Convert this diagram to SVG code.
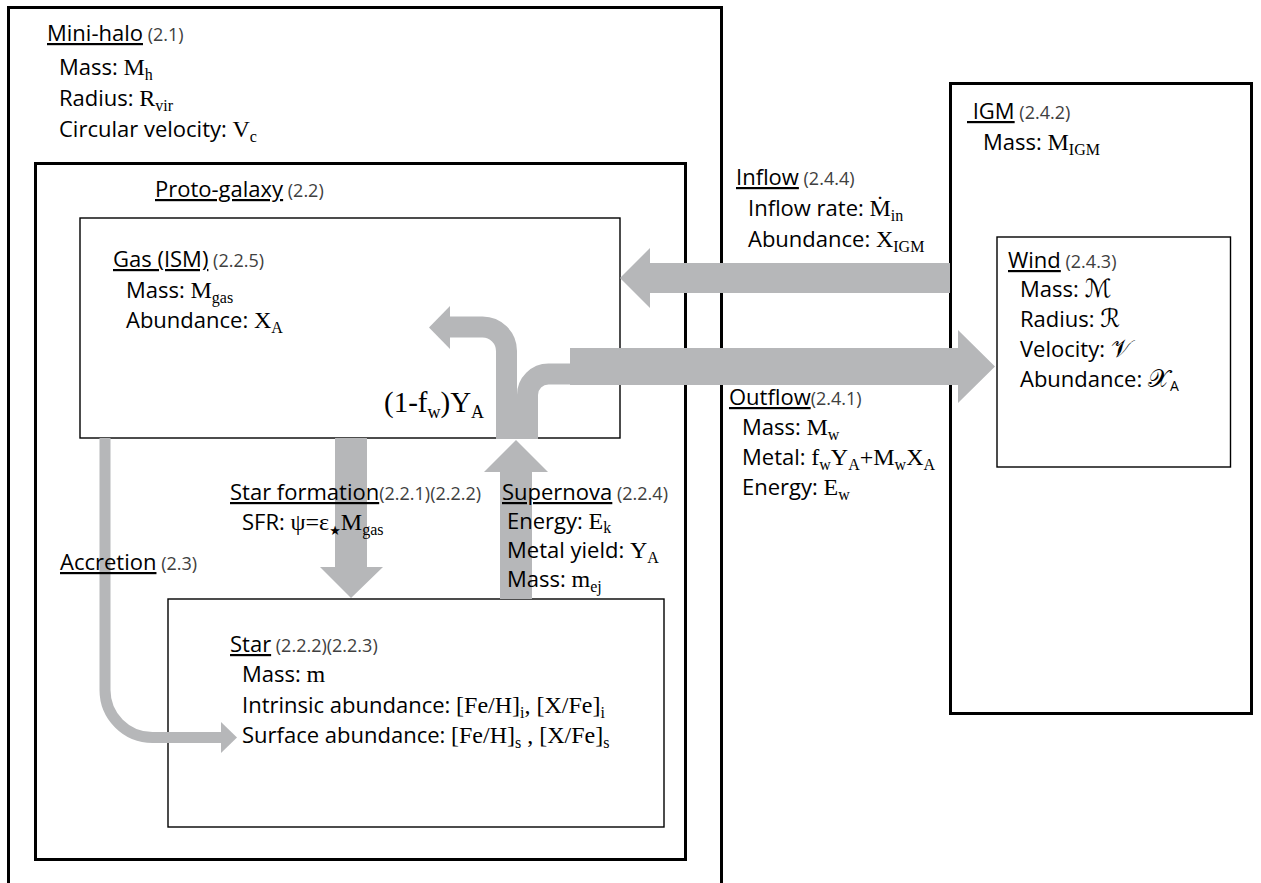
<svg xmlns="http://www.w3.org/2000/svg" width="1261" height="883" viewBox="0 0 1261 883">
<style>
.bx{fill:none;stroke:#000}
.thick{stroke-width:3}
.thin{stroke-width:1.4}
text{font-family:"Open Sans","Liberation Sans",sans-serif;font-size:22px;fill:#000}
.u{text-decoration:underline}
.n{font-size:18px;fill:#404040}
.v{font-family:"Liberation Serif","Times New Roman",serif;font-size:24px}
.sb{font-family:"Liberation Serif","Times New Roman",serif;font-size:16px}
.big{font-family:"Liberation Serif","Times New Roman",serif;font-size:29px}
.bsb{font-size:18px}
.sc{font-family:"DejaVu Serif","DejaVu Sans",serif;font-size:25px}
.arr{fill:#b6b7b9}
.arrs{fill:none;stroke:#b6b7b9}
</style>
<rect width="1261" height="883" fill="#fff"/>
<g id="mini-halo">
<rect class="bx thick" x="8.5" y="7.5" width="713" height="900"/>
<text x="47" y="41"><tspan class="u">Mini-halo</tspan><tspan class="n"> (2.1)</tspan></text>
<text x="59" y="75">Mass: <tspan class="v">M</tspan><tspan class="sb" dy="5">h</tspan></text>
<text x="59" y="106">Radius: <tspan class="v">R</tspan><tspan class="sb" dy="5">vir</tspan></text>
<text x="59" y="137">Circular velocity: <tspan class="v">V</tspan><tspan class="sb" dy="5">c</tspan></text>
</g>
<g id="proto-galaxy">
<rect class="bx thick" x="35.5" y="163.5" width="650" height="696"/>
<text x="155" y="197"><tspan class="u">Proto-galaxy</tspan><tspan class="n"> (2.2)</tspan></text>
</g>
<g id="gas">
<rect class="bx thin" x="80" y="218" width="540" height="220"/>
<text x="113" y="267"><tspan class="u">Gas (ISM)</tspan><tspan class="n"> (2.2.5)</tspan></text>
<text x="126" y="298">Mass: <tspan class="v">M</tspan><tspan class="sb" dy="5">gas</tspan></text>
<text x="126" y="328">Abundance: <tspan class="v">X</tspan><tspan class="sb" dy="5">A</tspan></text>
</g>
<g id="star">
<rect class="bx thin" x="168" y="599" width="496" height="228"/>
<text x="230" y="652"><tspan class="u">Star</tspan><tspan class="n"> (2.2.2)(2.2.3)</tspan></text>
<text x="242" y="682">Mass: <tspan class="v">m</tspan></text>
<text x="242" y="713">Intrinsic abundance: <tspan class="v">[Fe/H]</tspan><tspan class="sb" dy="5">i</tspan><tspan class="v" dy="-5">, [X/Fe]</tspan><tspan class="sb" dy="5">i</tspan></text>
<text x="242" y="743">Surface abundance: <tspan class="v">[Fe/H]</tspan><tspan class="sb" dy="5">s</tspan><tspan class="v" dy="-5"> , [X/Fe]</tspan><tspan class="sb" dy="5">s</tspan></text>
</g>
<g id="igm">
<rect class="bx thick" x="950.5" y="83.5" width="301" height="630"/>
<text x="967" y="119"><tspan class="u">&#160;IGM</tspan><tspan class="n"> (2.4.2)</tspan></text>
<text x="983" y="150">Mass: <tspan class="v">M</tspan><tspan class="sb" dy="5">IGM</tspan></text>
</g>
<g id="wind">
<rect class="bx thin" x="997" y="237" width="233.5" height="230"/>
<text x="1008" y="268"><tspan class="u">Wind</tspan><tspan class="n"> (2.4.3)</tspan></text>
<text x="1020" y="297">Mass: <tspan class="sc">ℳ</tspan></text>
<text x="1020" y="327">Radius: <tspan class="sc">ℛ</tspan></text>
<text x="1020" y="357">Velocity: <tspan class="sc">𝒱</tspan></text>
<text x="1020" y="387">Abundance: <tspan class="sc">𝒳</tspan><tspan dy="4" style="font-size:14px">A</tspan></text>
</g>
<g id="connectors">
<polygon id="inflow" class="arr" points="950,263 650,263 650,248 620,278 650,308 650,293 950,293"/>
<polygon id="outflow" class="arr" points="570,348 958,348 958,330 995,366.5 958,403 958,385 570,385"/>
<path class="arrs" stroke-width="21" d="M527.5,439 V395 A21,21 0 0 1 548.5,374 H572"/>
<path class="arrs" stroke-width="21" d="M506.5,439 V351 A24,24 0 0 0 482.5,327 H449"/>
<polygon class="arr" points="450,306 429,327.5 450,349"/>
<polygon id="supernova" class="arr" points="500,599 532,599 532,472 548,472 516,440 484,472 500,472"/>
<polygon id="star-formation" class="arr" points="335,438 367,438 367,567 383,567 351,598 320,567 335,567"/>
<path id="accretion" class="arrs" stroke-width="11" d="M105,438 V690 A47.5,47.5 0 0 0 152.5,737.5 H222"/>
<polygon class="arr" points="221,722 237,737.5 221,753"/>
</g>
<g id="connector-labels">
<text x="384" y="412" class="big">(1-f<tspan class="bsb" dy="6">w</tspan><tspan dy="-6">)Y</tspan><tspan class="bsb" dy="6">A</tspan></text>
<text x="230" y="500"><tspan class="u">Star formation</tspan><tspan class="n">(2.2.1)(2.2.2)</tspan></text>
<text x="242" y="530">SFR: <tspan class="v">ψ=ε</tspan><tspan dy="5" style="font-family:'DejaVu Sans',sans-serif;font-size:13px">★</tspan><tspan class="v" dy="-5">M</tspan><tspan class="sb" dy="5">gas</tspan></text>
<text x="502" y="500"><tspan class="u">Supernova</tspan><tspan class="n"> (2.2.4)</tspan></text>
<text x="507" y="529">Energy: <tspan class="v">E</tspan><tspan class="sb" dy="4">k</tspan></text>
<text x="507" y="558">Metal yield: <tspan class="v">Y</tspan><tspan class="sb" dy="5">A</tspan></text>
<text x="507" y="587">Mass: <tspan class="v">m</tspan><tspan class="sb" dy="5">ej</tspan></text>
<text x="60" y="570"><tspan class="u">Accretion</tspan><tspan class="n"> (2.3)</tspan></text>
<text x="736" y="185"><tspan class="u">Inflow</tspan><tspan class="n"> (2.4.4)</tspan></text>
<text x="748" y="216">Inflow rate: <tspan class="v">Ṁ</tspan><tspan class="sb" dy="5">in</tspan></text>
<text x="748" y="247">Abundance: <tspan class="v">X</tspan><tspan class="sb" dy="5">IGM</tspan></text>
<text x="729" y="405"><tspan class="u">Outflow</tspan><tspan class="n">(2.4.1)</tspan></text>
<text x="742" y="435">Mass: <tspan class="v">M</tspan><tspan class="sb" dy="5">w</tspan></text>
<text x="742" y="465">Metal: <tspan class="v">f</tspan><tspan class="sb" dy="5">w</tspan><tspan class="v" dy="-5">Y</tspan><tspan class="sb" dy="5">A</tspan><tspan class="v" dy="-5">+M</tspan><tspan class="sb" dy="5">w</tspan><tspan class="v" dy="-5">X</tspan><tspan class="sb" dy="5">A</tspan></text>
<text x="742" y="495">Energy: <tspan class="v">E</tspan><tspan class="sb" dy="5">w</tspan></text>
</g>
</svg>
